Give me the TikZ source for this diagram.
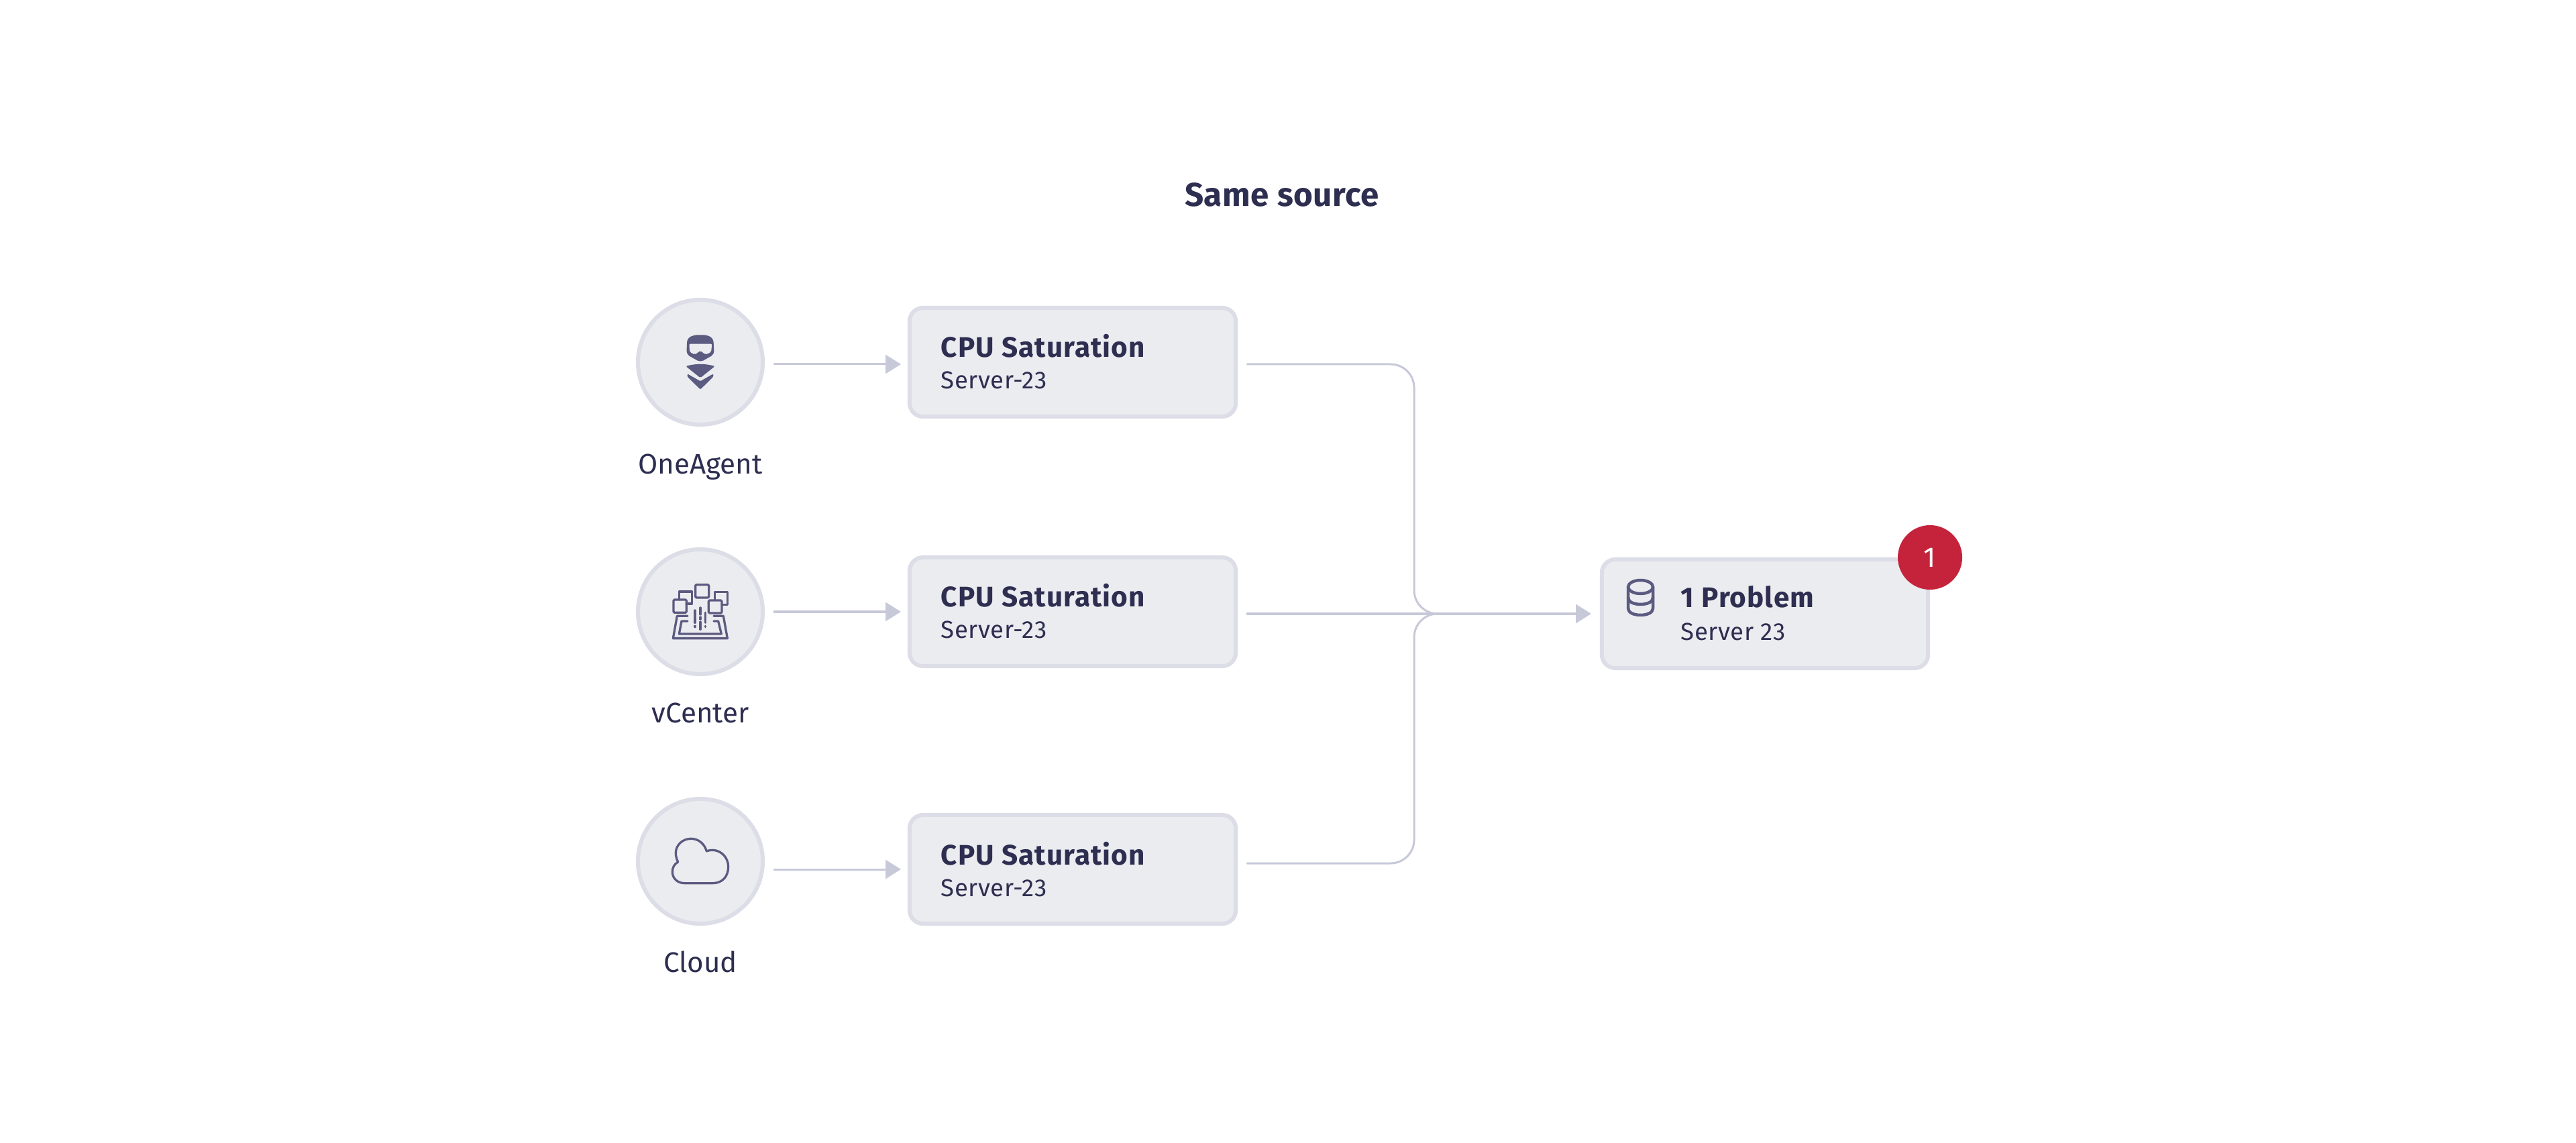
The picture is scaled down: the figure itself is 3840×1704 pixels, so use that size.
\documentclass[tikz,border=0pt]{standalone}
\usepackage{fontspec}
\setmainfont{Fira Sans}
\usetikzlibrary{arrows.meta}
\definecolor{inktext}{HTML}{2D2E50}
\definecolor{paneltint}{HTML}{EBECF0}
\definecolor{panelrim}{HTML}{DCDDE6}
\definecolor{wire}{HTML}{C7C9D9}
\definecolor{glyph}{HTML}{5B5A80}
\definecolor{alarm}{HTML}{C4233B}
\tikzstyle{source}=[circle,draw=panelrim,fill=paneltint,line width=0.06cm,minimum size=1.86cm,inner sep=0pt]
\tikzstyle{card}=[rectangle,rounded corners=0.2cm,draw=panelrim,fill=paneltint,line width=0.06cm,minimum width=4.86cm,minimum height=1.62cm,inner sep=0pt]
\tikzstyle{badge}=[circle,fill=alarm,minimum size=0.96cm,inner sep=0pt,text=white,font=\fontsize{12pt}{14pt}\selectfont]
\tikzstyle{label}=[anchor=base,inner sep=0pt,text=inktext,font=\fontsize{12pt}{14pt}\selectfont]
\tikzstyle{headline}=[anchor=base west,inner sep=0pt,text=inktext,font=\fontsize{12pt}{14pt}\selectfont\bfseries\addfontfeature{LetterSpace=2.7}]
\tikzstyle{subline}=[anchor=base west,inner sep=0pt,text=inktext,font=\fontsize{10.4pt}{12pt}\selectfont\addfontfeature{LetterSpace=1.5}]
\tikzstyle{edge}=[draw=wire,line width=0.03cm,line cap=round]
\tikzstyle{link}=[edge,-{Triangle[length=0.23cm,width=0.28cm]}]
\tikzstyle{iconline}=[draw=glyph,line width=0.033cm,line cap=round,line join=round]

\begin{document}
\begin{tikzpicture}[x=0.01cm,y=-0.01cm]
	\useasboundingbox (0,0) rectangle (3840,1704);
	\node[anchor=base,inner sep=0pt,text=inktext,font=\fontsize{14pt}{16pt}\selectfont\bfseries\addfontfeature{LetterSpace=1.2}] (title) at (1911,308) {Same source};

	\foreach \pos/\name/\word/\ybase in {{(1044,540)/agent/OneAgent/707}, {(1044,912)/vcenter/vCenter/1077}, {(1044,1284)/cloud/Cloud/1449}} {
		\node[source] (\name) at \pos {};
		\node[label] (\name-text) at (1044,\ybase) {\word};
	}
	\foreach \pos/\name/\ybase in {{(1599,540)/cpua/533}, {(1599,912)/cpub/905}, {(1599,1296)/cpuc/1289}} {
		\node[card] (\name) at \pos {};
		\node[headline] (\name-head) at (1402,\ybase) {CPU Saturation};
		\node[subline] (\name-sub) at (1402,\ybase+47) {Server-23};
	}
	\node[card] (problem) at (2631,915) {};
	\node[headline] (problem-head) at (2505,906) {1 Problem};
	\node[subline] (problem-sub) at (2505,954) {Server 23};
	\node[badge] (count) at (2877,831) {1};

	% entry and exit points on the cards
	\coordinate (in-cpua) at (1343,543);
	\coordinate (in-cpub) at (1343,912);
	\coordinate (in-cpuc) at (1343,1296);
	\coordinate (out-cpua) at (1859,543);
	\coordinate (out-cpub) at (1859,915);
	\coordinate (out-cpuc) at (1859,1287);
	\coordinate (in-problem) at (2372,915);
	\coordinate (bus) at (2108,915);
	\coordinate (merge) at (2144,915);

	\foreach \source/\dest in {agent/cpua, vcenter/cpub, cloud/cpuc}
		\path[link] ([xshift=0.14cm]\source.east |- in-\dest) -- (in-\dest);
	\path[link] (out-cpub) -- (in-problem);
	\path[edge,rounded corners=0.35cm] (out-cpua) -| (bus) -- (merge);
	\path[edge,rounded corners=0.35cm] (out-cpuc) -| (bus) -- (merge);

	% one agent mark
	\begin{scope}[shift={(920,420)},scale=0.3333]
		\fill[glyph,rounded corners=0.05cm] (345,238) -- (400,238) -- (430,253) -- (434,325) -- (372,360) -- (310,325) -- (313,253) -- cycle;
		\fill[paneltint,rounded corners=0.02cm] (322,278) -- (424,278) -- (420,315) -- (395,326) -- (372,308) -- (348,326) -- (325,315) -- cycle;
		\fill[glyph,rounded corners=0.02cm] (307,378) .. controls (350,366) and (394,366) .. (437,378) -- (372,430) -- cycle;
		\fill[glyph,rounded corners=0.015cm] (314,412) -- (372,445) -- (430,412) -- (430,425) -- (372,482) -- (314,425) -- cycle;
	\end{scope}

	% vcenter mark
	\begin{scope}[shift={(920,790)},scale=0.3333]
		\draw[iconline,rounded corners=0.015cm] (350,245) rectangle (410,303);
		\draw[iconline,rounded corners=0.015cm] (252,312) rectangle (310,370);
		\draw[iconline,rounded corners=0.015cm] (409,315) rectangle (468,372);
		\draw[iconline] (277,312) -- (277,276) -- (335,276) -- (335,330) -- (310,330);
		\draw[iconline] (437,312) -- (437,278) -- (493,278) -- (493,335) -- (468,335);
		\draw[iconline] (315,385) -- (268,385) -- (250,485) -- (493,485) -- (475,385) -- (432,385);
		\draw[iconline] (315,408) -- (288,408) -- (277,465) -- (466,465) -- (452,408) -- (432,408);
		\draw[iconline] (372,348) -- (372,378) (372,390) -- (372,400) (372,412) -- (372,445);
		\draw[iconline] (348,360) -- (348,415) (348,430) -- (348,434);
		\draw[iconline] (394,370) -- (394,415) (394,430) -- (394,434);
	\end{scope}

	% cloud mark
	\begin{scope}[shift={(920,1170)},scale=0.3333]
		\draw[iconline] (300,440) -- (428,440) .. controls (470,440) and (497,410) .. (497,367) .. controls (497,325) and (465,292) .. (425,292) .. controls (415,292) and (408,294) .. (400,297) .. controls (390,262) and (362,241) .. (330,241) .. controls (292,241) and (262,270) .. (262,305) .. controls (262,320) and (266,332) .. (272,345) .. controls (255,355) and (247,370) .. (247,390) .. controls (247,418) and (270,440) .. (300,440) -- cycle;
	\end{scope}

	% database mark
	\begin{scope}[iconline,line width=0.045cm]
		\draw (2445.5,875) ellipse [x radius=18.5,y radius=10];
		\draw (2427,875) -- (2427,907) .. controls (2427,920.3) and (2464,920.3) .. (2464,907) -- (2464,875);
		\draw (2427,891) .. controls (2427,904.3) and (2464,904.3) .. (2464,891);
	\end{scope}
\end{tikzpicture}
\end{document}
